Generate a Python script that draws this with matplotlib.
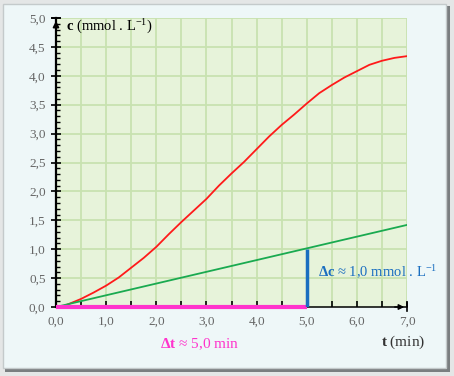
import matplotlib
matplotlib.use("Agg")
import matplotlib.pyplot as plt
from matplotlib.patches import Rectangle
import numpy as np

# ---- data ----
t_red = [0.1, 0.25, 0.5, 0.75, 1.0, 1.25, 1.5, 1.75, 2.0, 2.25, 2.5, 2.75, 3.0, 3.25, 3.5,
         3.75, 4.0, 4.25, 4.5, 4.75, 5.0, 5.25, 5.5, 5.75, 6.0, 6.25, 6.5, 6.75, 7.0]
c_red = [0.0, 0.05, 0.14, 0.25, 0.37, 0.51, 0.68, 0.85, 1.04, 1.26, 1.47, 1.67, 1.87, 2.10, 2.31,
         2.51, 2.73, 2.95, 3.15, 3.33, 3.52, 3.70, 3.84, 3.97, 4.08, 4.19, 4.26, 4.31, 4.34]
t_green = [0.0, 7.0]
c_green = [0.0, 1.42]
t_delta = [0.0, 5.0]
c_delta = [0.0, 1.0]
x_ticks = [0.0, 1.0, 2.0, 3.0, 4.0, 5.0, 6.0, 7.0]
x_labels = ["0,0", "1,0", "2,0", "3,0", "4,0", "5,0", "6,0", "7,0"]
y_ticks = [0.0, 0.5, 1.0, 1.5, 2.0, 2.5, 3.0, 3.5, 4.0, 4.5, 5.0]
y_labels = ["0,0", "0,5", "1,0", "1,5", "2,0", "2,5", "3,0", "3,5", "4,0", "4,5", "5,0"]

plt.rcParams['font.family'] = ['Liberation Serif', 'DejaVu Serif']
plt.rcParams['mathtext.fontset'] = 'custom'
plt.rcParams['mathtext.rm'] = 'Liberation Serif'
plt.rcParams['mathtext.it'] = 'Liberation Serif:italic'
plt.rcParams['mathtext.bf'] = 'Liberation Serif:bold'
plt.rcParams['mathtext.default'] = 'regular'

W, H = 454, 376
fig = plt.figure(figsize=(W / 100, H / 100), dpi=100)
fig.patch.set_facecolor('#e4e6e6')

def px(x0, y0, w, h):
    return (x0 / W, 1 - (y0 + h) / H, w / W, h / H)

# frame: shadow + panel
sx, sy, sw, sh = px(5, 6, 445, 366)
fig.patches.append(Rectangle((sx, sy), sw, sh, transform=fig.transFigure,
                             facecolor='#7a7e80', edgecolor='none', zorder=-10))
bx, by, bw, bh = px(3, 4, 443, 364)
fig.patches.append(Rectangle((bx, by), bw, bh, transform=fig.transFigure,
                             facecolor='#eef7f8', edgecolor='#c4cacb', lw=1, zorder=-9))

ax = fig.add_axes(px(56, 18, 351, 289))
ax.set_zorder(1)
ax.set_facecolor('#e7f3da')
ax.set_xlim(0, 7)
ax.set_ylim(0, 5)

# grid
for gx in np.arange(0.5, 7.01, 0.5):
    ax.axvline(gx, color='#c8e2b0', lw=1.3, zorder=1)
for gy in np.arange(0.5, 5.01, 0.5):
    ax.axhline(gy, color='#c8e2b0', lw=1.3, zorder=1)

# spines
for s in ['top', 'right']:
    ax.spines[s].set_visible(False)
ax.spines['left'].set_linewidth(1.6)
ax.spines['bottom'].set_linewidth(1.1)
ax.spines['left'].set_zorder(6)
ax.spines['bottom'].set_zorder(6)

ax.set_xticks(x_ticks)
ax.set_xticklabels(x_labels)
ax.set_xticks(np.arange(0.5, 7.0, 1.0), minor=True)
ax.set_yticks(y_ticks)
ax.set_yticklabels(y_labels)
ax.set_yticks(np.arange(0.1, 5.0, 0.1), minor=True)
ax.tick_params(axis='x', which='both', direction='in', length=4, width=1.2,
               labelsize=9.5, labelcolor='#666666', pad=6)
ax.tick_params(axis='y', which='major', direction='inout', length=7, width=1.2,
               labelsize=9.5, labelcolor='#666666', pad=4)
ax.tick_params(axis='y', which='minor', direction='in', length=3, width=1.0)

# arrows at axis ends
ax.annotate('', xy=(0, 5.0), xytext=(0, 4.7),
            arrowprops=dict(arrowstyle='-|>', color='black', lw=1.2, mutation_scale=9),
            annotation_clip=False, zorder=7)
ax.plot([-0.08, 0.08], [5.0, 5.0], color='black', lw=1.2, clip_on=False, zorder=7)
ax.annotate('', xy=(7.0, 0), xytext=(6.7, 0),
            arrowprops=dict(arrowstyle='-|>', color='black', lw=1.0, mutation_scale=8),
            annotation_clip=False, zorder=7)
ax.plot([7.0, 7.0], [-0.07, 0.07], color='black', lw=1.2, clip_on=False, zorder=7)

# curves
ax.plot(t_red, c_red, color='#ff1a1a', lw=1.3, zorder=4)
ax.plot(t_green, c_green, color='#1aaa50', lw=1.3, zorder=4)
ax.plot(t_delta, [0, 0], color='#ff33cc', lw=3, zorder=8, solid_capstyle='butt', clip_on=False)
ax.plot([t_delta[1], t_delta[1]], c_delta, color='#1a6ec0', lw=2.5, zorder=8, solid_capstyle='butt')

# texts
fig.text(66 / W, 1 - 27 / H, r'$\mathbf{c}$ (mmol . L$^{-1}$)', fontsize=10.5,
         va='center', ha='left', color='black', zorder=10)
fig.text(318 / W, 1 - 272 / H, r'$\mathbf{Δc}$ ≈ 1,0 mmol . L$^{-1}$', fontsize=10.5,
         va='center', ha='left', color='#1a6ec0', zorder=10)
fig.text(160 / W, 1 - 344 / H, r'$\mathbf{Δt}$ ≈ 5,0 min', fontsize=11,
         va='center', ha='left', color='#ff33cc', zorder=10)
fig.text(381 / W, 1 - 342 / H, r'$\mathbf{t}$ (min)', fontsize=11,
         va='center', ha='left', color='#333333', zorder=10)

fig.savefig('out.png', dpi=100)
